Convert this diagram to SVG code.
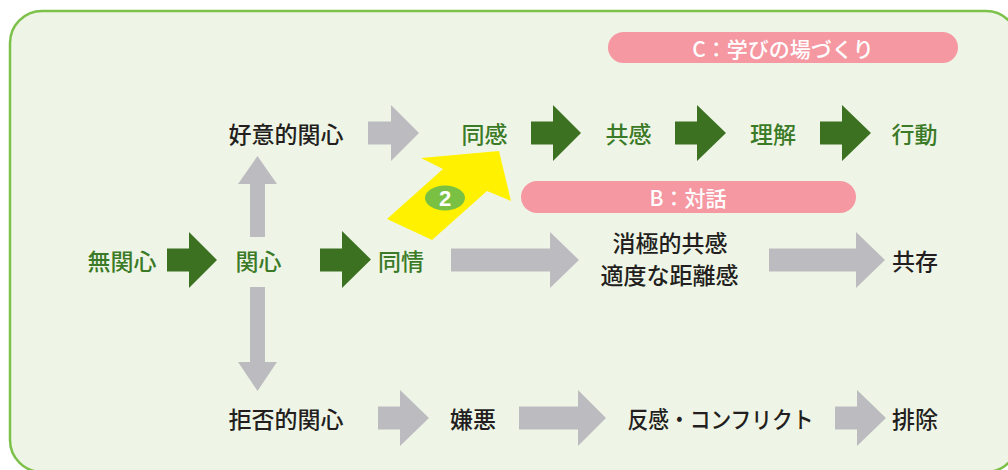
<svg xmlns="http://www.w3.org/2000/svg" width="1008" height="470" viewBox="0 0 1008 470">
<style>
.t{font-family:"Noto Sans CJK JP","Noto Sans",sans-serif;font-size:23px;text-anchor:middle;dominant-baseline:central}
.k{fill:#231f20;font-weight:500}
.g{fill:#3b7a27;font-weight:500}
.ga{fill:#bcbcc0}
.gr{fill:#3b7120}
.pill{fill:#f598a2}
.pt{font-family:"Noto Sans CJK JP","Noto Sans",sans-serif;font-size:21px;fill:#ffffff;font-weight:500;text-anchor:middle;dominant-baseline:central}
</style>
<rect x="10" y="11" width="1008" height="461" rx="32" ry="32" fill="#eff5e6" stroke="#7cc14a" stroke-width="2.5"/>
<g id="pill-c"><rect class="pill" x="608" y="32" width="350" height="31" rx="15.5"/><text class="pt" x="783" y="47.5">C：学びの場づくり</text></g>
<g id="pill-b"><rect class="pill" x="521" y="181" width="335" height="32" rx="16"/><text class="pt" x="688" y="197">B：対話</text></g>
<g id="connectors">
<polygon class="ga" points="368,121.5 391,121.5 391,105 419,133 391,161 391,144.5 368,144.5"/>
<polygon class="gr" points="531,121.5 553,121.5 553,105 581,133 553,161 553,144.5 531,144.5"/>
<polygon class="gr" points="675,121.5 697,121.5 697,105 726,133 697,161 697,144.5 675,144.5"/>
<polygon class="gr" points="820,121.5 842,121.5 842,105 871,133 842,161 842,144.5 820,144.5"/>
<polygon class="gr" points="167,248.5 189,248.5 189,232 217,260 189,288 189,271.5 167,271.5"/>
<polygon class="gr" points="320,248.5 342,248.5 342,231 371,259.5 342,288 342,271.5 320,271.5"/>
<polygon class="ga" points="451,248.5 550,248.5 550,232 579,260 550,288 550,271.5 451,271.5"/>
<polygon class="ga" points="769,248.5 856,248.5 856,232 885,260 856,288 856,271.5 769,271.5"/>
<polygon class="ga" points="378,406.5 400,406.5 400,390 429,418 400,446 400,429.5 378,429.5"/>
<polygon class="ga" points="519,406.5 578,406.5 578,390 606,418 578,446 578,429.5 519,429.5"/>
<polygon class="ga" points="835,406.5 857,406.5 857,390 886,418 857,446 857,429.5 835,429.5"/>
<polygon class="ga" points="250,237 250,184 238,184 257.5,156 277,184 265,184 265,237"/>
<polygon class="ga" points="250,287 250,362 238,362 257.5,391 277,362 265,362 265,287"/>
<polygon fill="#fff100" points="499,151 511,201 487,191 432,240 387,219 443,169 421,158"/>
</g>
<g id="badge-2"><ellipse cx="445" cy="198" rx="20" ry="12.5" fill="#7ac143"/><text x="445" y="198.5" font-family="Liberation Sans,Arial,sans-serif" font-size="22" font-weight="700" fill="#ffffff" text-anchor="middle" dominant-baseline="central">2</text></g>
<g id="n-koui"><text class="t k" x="286" y="133">好意的関心</text></g>
<g id="n-doukan"><text class="t g" x="484.5" y="133">同感</text></g>
<g id="n-kyoukan"><text class="t g" x="628.5" y="133">共感</text></g>
<g id="n-rikai"><text class="t g" x="773" y="133">理解</text></g>
<g id="n-koudou"><text class="t g" x="914.5" y="133">行動</text></g>
<g id="n-mukanshin"><text class="t g" x="122" y="260">無関心</text></g>
<g id="n-kanshin"><text class="t g" x="258.5" y="260">関心</text></g>
<g id="n-doujou"><text class="t g" x="401" y="260">同情</text></g>
<g id="n-shoukyoku"><text class="t k" x="670" y="242">消極的共感</text><text class="t k" x="669.5" y="273.5">適度な距離感</text></g>
<g id="n-kyouzon"><text class="t k" x="915" y="260">共存</text></g>
<g id="n-kyohi"><text class="t k" x="286" y="418">拒否的関心</text></g>
<g id="n-keno"><text class="t k" x="473" y="418">嫌悪</text></g>
<g id="n-hankan"><text class="t k" x="720.5" y="418" textLength="186" lengthAdjust="spacingAndGlyphs">反感・コンフリクト</text></g>
<g id="n-haijo"><text class="t k" x="915" y="418">排除</text></g>
</svg>
